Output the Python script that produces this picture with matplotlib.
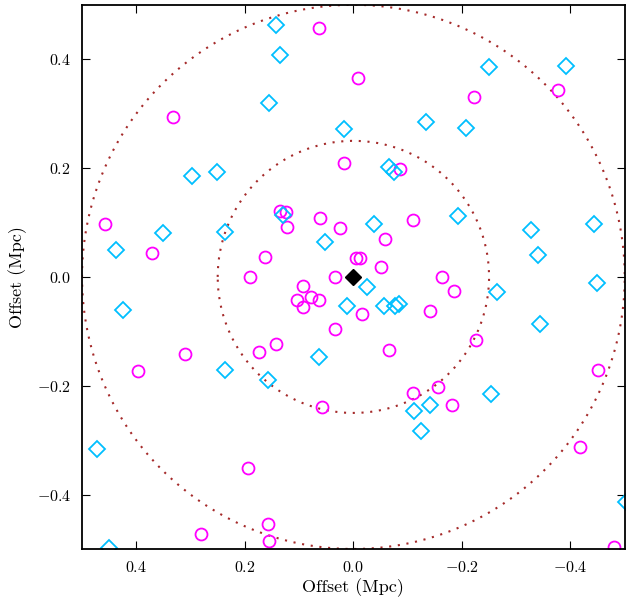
import numpy as np
import matplotlib
matplotlib.use("Agg")
import matplotlib.pyplot as plt

plt.rcParams['font.family'] = 'serif'
plt.rcParams['font.serif'] = ['cmr10']
plt.rcParams['mathtext.fontset'] = 'cm'
plt.rcParams['axes.formatter.use_mathtext'] = True

# offsets in Mpc
circ_x = [0.064, -0.009, 0.333, 0.017, 0.136, 0.125, 0.122, 0.062, 0.024, 0.457,
          0.371, 0.162, 0.191, 0.034, -0.004, -0.013, -0.223, -0.377, -0.085, -0.110,
          -0.058, -0.051, -0.164, 0.092, 0.104, 0.079, 0.064, 0.092, 0.034, 0.142,
          0.173, 0.310, 0.397, 0.057, 0.194, 0.158, 0.281, 0.156, -0.186, -0.015,
          -0.142, -0.066, -0.226, -0.110, -0.156, -0.181, -0.451, -0.417, -0.480]
circ_y = [0.457, 0.366, 0.294, 0.210, 0.122, 0.119, 0.092, 0.109, 0.089, 0.098,
          0.043, 0.037, 0.000, 0.000, 0.035, 0.035, 0.330, 0.343, 0.198, 0.104,
          0.070, 0.019, 0.000, -0.017, -0.043, -0.037, -0.043, -0.056, -0.096, -0.124,
          -0.138, -0.141, -0.172, -0.239, -0.352, -0.454, -0.473, -0.485, -0.025, -0.069,
          -0.062, -0.135, -0.116, -0.214, -0.202, -0.235, -0.171, -0.312, -0.497]

diam_x = [0.143, 0.136, 0.155, 0.017, 0.297, 0.251, 0.351, 0.237, 0.437, 0.130,
          0.052, -0.250, -0.392, -0.134, -0.207, -0.065, -0.074, -0.193, -0.038, -0.327,
          -0.341, -0.444, -0.448, 0.424, 0.011, 0.063, 0.237, 0.158, 0.472, 0.451,
          -0.026, -0.056, -0.076, -0.084, -0.264, -0.344, -0.254, -0.142, -0.112, -0.125,
          -0.503]
diam_y = [0.462, 0.407, 0.319, 0.271, 0.186, 0.192, 0.081, 0.082, 0.049, 0.114,
          0.064, 0.386, 0.388, 0.284, 0.273, 0.202, 0.193, 0.111, 0.097, 0.086,
          0.040, 0.098, -0.012, -0.060, -0.053, -0.147, -0.171, -0.190, -0.317, -0.498,
          -0.018, -0.053, -0.054, -0.049, -0.028, -0.086, -0.215, -0.235, -0.247, -0.284,
          -0.413]

radii = [0.25, 0.5]

fig = plt.figure(figsize=(6.26, 6.0), dpi=100)
ax = fig.add_axes([0.131, 0.085, 0.867, 0.907])

t = np.linspace(0, 2 * np.pi, 400)
for r in radii:
    ax.plot(r * np.cos(t), r * np.sin(t), ls=(0, (1, 3.2)), color='#a52a2a', lw=1.5)

ax.plot(circ_x, circ_y, 'o', mfc='none', mec='#ff00ff', ms=8.6, mew=1.3, ls='none')
ax.plot(diam_x, diam_y, 'D', mfc='none', mec='#00bfff', ms=8, mew=1.3, ls='none')
ax.plot([0], [0], 'D', color='black', ms=8)

ax.set_xlim(0.5, -0.5)
ax.set_ylim(-0.5, 0.5)
ax.set_xticks([0.4, 0.2, 0.0, -0.2, -0.4])
ax.set_yticks([-0.4, -0.2, 0.0, 0.2, 0.4])
ax.tick_params(direction='in', top=True, right=True, length=6, labelsize=11.5, pad=8)
for s in ax.spines.values():
    s.set_linewidth(1.3)

ax.set_xlabel('Offset (Mpc)', fontsize=13, labelpad=2)
ax.set_ylabel('Offset (Mpc)', fontsize=13, labelpad=7)

fig.savefig('out.png', dpi=100)
